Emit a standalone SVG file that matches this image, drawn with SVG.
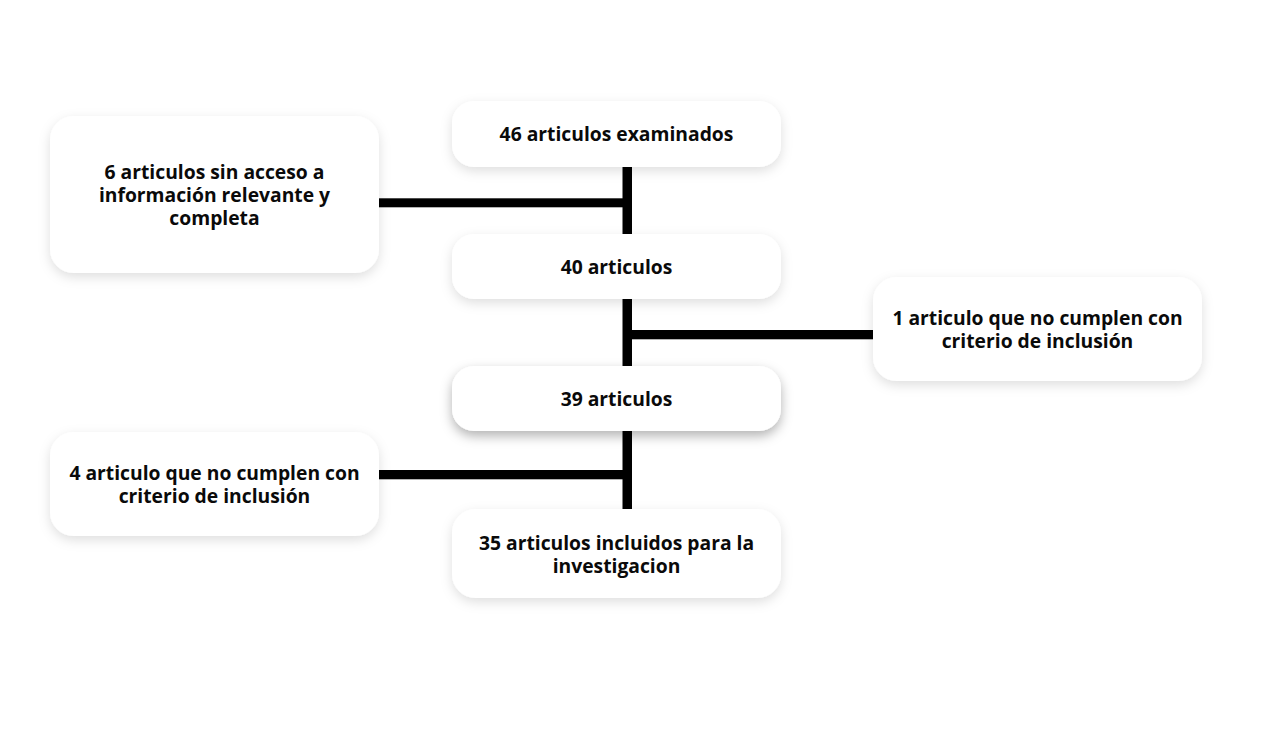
<svg xmlns="http://www.w3.org/2000/svg" width="1274" height="742" viewBox="0 0 1274 742">
<style>
.box{fill:#fff;filter:url(#sh)}
.boxd{fill:#fff;filter:url(#shd)}
.t{font-family:"Open Sans",Lato,sans-serif;font-weight:700;font-size:19.3px;fill:#0a0a0a;text-anchor:middle;font-variant-ligatures:none}
.ln{fill:#000}
</style>
<defs>
<filter id="sh" x="-20%" y="-30%" width="140%" height="170%">
<feDropShadow dx="0" dy="4" stdDeviation="6" flood-color="#000" flood-opacity="0.13"/>
</filter>
<filter id="shd" x="-20%" y="-30%" width="140%" height="170%">
<feDropShadow dx="0" dy="5" stdDeviation="6" flood-color="#000" flood-opacity="0.3"/>
</filter>
</defs>
<rect width="1274" height="742" fill="#fff"/>
<g id="connectors">
<rect class="ln" x="622.5" y="166" width="9.5" height="69"/>
<rect class="ln" x="622.5" y="298" width="9.5" height="69"/>
<rect class="ln" x="622.5" y="430" width="9.5" height="80"/>
<rect class="ln" x="378" y="198.3" width="245" height="9"/>
<rect class="ln" x="632" y="330" width="242" height="9.3"/>
<rect class="ln" x="378" y="470" width="245" height="9.3"/>
</g>
<g id="n46">
<rect class="box" x="452" y="101" width="329" height="66" rx="22"/>
<text class="t" x="616.5" y="141">46 articulos examinados</text>
</g>
<g id="n6">
<rect class="box" x="50" y="116" width="329" height="157" rx="24"/>
<text class="t" x="214.5" y="179">6 articulos sin acceso a</text>
<text class="t" x="214.5" y="202">información relevante y</text>
<text class="t" x="214.5" y="225">completa</text>
</g>
<g id="n40">
<rect class="box" x="452" y="234" width="329" height="65" rx="22"/>
<text class="t" x="616.5" y="274">40 articulos</text>
</g>
<g id="n1">
<rect class="box" x="873" y="277" width="329" height="104" rx="24"/>
<text class="t" x="1037.5" y="325">1 articulo que no cumplen con</text>
<text class="t" x="1037.5" y="348">criterio de inclusión</text>
</g>
<g id="n39">
<rect class="boxd" x="452" y="366" width="329" height="65" rx="22"/>
<text class="t" x="616.5" y="406">39 articulos</text>
</g>
<g id="n4">
<rect class="box" x="50" y="432" width="329" height="104" rx="24"/>
<text class="t" x="214.5" y="480">4 articulo que no cumplen con</text>
<text class="t" x="214.5" y="503">criterio de inclusión</text>
</g>
<g id="n35">
<rect class="box" x="452" y="509" width="329" height="89" rx="24"/>
<text class="t" x="616.5" y="550">35 articulos incluidos para la</text>
<text class="t" x="616.5" y="573">investigacion</text>
</g>
</svg>
